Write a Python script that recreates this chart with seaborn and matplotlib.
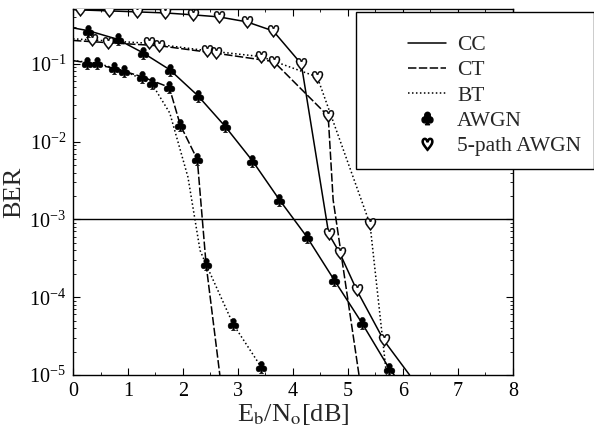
import numpy as np
import pandas as pd
import matplotlib
matplotlib.use("Agg")
import matplotlib.pyplot as plt
import seaborn as sns
from matplotlib.lines import Line2D
from matplotlib.legend_handler import HandlerLine2D
from matplotlib.ticker import LogLocator, MultipleLocator, NullFormatter

# ---------------- data ----------------
cc_awgn_x = [0, 0.28, 0.81, 1.27, 1.76, 2.27, 2.76, 3.26, 3.75, 4.25, 4.75, 5.25, 5.75, 5.84]
cc_awgn_y = [0.29, 0.267, 0.207, 0.139, 0.084, 0.039, 0.0159, 5.7e-3, 1.8e-3, 6.0e-4, 1.66e-4, 4.7e-5, 1.21e-5, 1e-5]
cc_awgn_mk = list(range(1, 13))

ct_awgn_x = [0, 0.26, 0.75, 1.25, 1.75, 1.95, 2.26, 2.42, 2.67]
ct_awgn_y = [0.11, 0.1035, 0.0877, 0.0685, 0.05, 0.0164, 5.9e-3, 2.64e-4, 1e-5]
ct_awgn_mk = list(range(1, 8))

bt_awgn_x = [0, 0.44, 0.93, 1.43, 1.76, 2.09, 2.31, 2.42, 2.91, 3.42]
bt_awgn_y = [0.11, 0.102, 0.081, 0.0562, 0.0233, 3.5e-3, 4.0e-4, 2.64e-4, 4.53e-5, 1.27e-5]
bt_awgn_mk = [1, 2, 3, 8, 9]

cc_5p_x = [0, 0.13, 0.65, 1.16, 1.67, 2.18, 2.65, 3.16, 3.64, 4.15, 4.65, 4.85, 5.16, 5.65, 6.12]
cc_5p_y = [0.5, 0.494, 0.48, 0.466, 0.452, 0.427, 0.402, 0.347, 0.265, 0.1, 6.5e-4, 3.7e-4, 1.23e-4, 2.8e-5, 1e-5]
cc_5p_mk = list(range(1, 14))

ct_5p_x = [0, 0.64, 1.57, 2.6, 3.65, 4.64, 4.73, 5.2]
ct_5p_y = [0.2, 0.187, 0.171, 0.137, 0.107, 0.0213, 1.78e-3, 1e-5]
ct_5p_mk = [1, 2, 3, 4, 5]

bt_5p_x = [0, 0.34, 1.39, 2.43, 3.42, 4.44, 5.40, 5.63, 5.7]
bt_5p_y = [0.21, 0.203, 0.184, 0.148, 0.124, 0.068, 8.7e-4, 2.86e-5, 1e-5]
bt_5p_mk = [1, 2, 3, 4, 5, 6]

x_ticks = [0, 1, 2, 3, 4, 5, 6, 7, 8]
legend_labels = ["CC", "CT", "BT", "AWGN", "5-path AWGN"]
ref_ber = 1e-3

# ---------------- style ----------------
sns.set_theme(style="ticks")
plt.rcParams["font.family"] = ["Liberation Serif", "DejaVu Serif"]
plt.rcParams["mathtext.fontset"] = "stix"
plt.rcParams["axes.edgecolor"] = "black"
plt.rcParams["axes.linewidth"] = 1.0

SOLID = "-"
DASHED = (0, (5.5, 1.6))
DOTTED = (0, (1.0, 1.6))
CLUB = "$\u2663$"
HEART = "$\u2661$"
HEART_FILL = "$\u2665$"

fig = plt.figure(figsize=(5.94, 4.36), dpi=100)
ax = fig.add_axes([73 / 594, 1 - 375 / 436, 440 / 594, 365.5 / 436])

series = [
    (cc_awgn_x, cc_awgn_y, cc_awgn_mk, SOLID, "club"),
    (ct_awgn_x, ct_awgn_y, ct_awgn_mk, DASHED, "club"),
    (bt_awgn_x, bt_awgn_y, bt_awgn_mk, DOTTED, "club"),
    (cc_5p_x, cc_5p_y, cc_5p_mk, SOLID, "heart"),
    (ct_5p_x, ct_5p_y, ct_5p_mk, DASHED, "heart"),
    (bt_5p_x, bt_5p_y, bt_5p_mk, DOTTED, "heart"),
]

ax.set_yscale("log")
for xs, ys, mk, ls, kind in series:
    df = pd.DataFrame({"x": xs, "y": ys})
    sns.lineplot(data=df, x="x", y="y", ax=ax, color="black", linewidth=1.1,
                 linestyle=ls, sort=False, estimator=None, zorder=3)
    dm = df.iloc[mk]
    if kind == "club":
        sns.scatterplot(data=dm, x="x", y="y", ax=ax, marker=CLUB, s=80,
                        color="black", edgecolor="black", linewidth=0.3, zorder=5)
    else:
        sns.scatterplot(data=dm, x="x", y="y", ax=ax, marker=HEART_FILL, s=70,
                        color="white", edgecolor="white", linewidth=0.0, zorder=4)
        sns.scatterplot(data=dm, x="x", y="y", ax=ax, marker=HEART, s=85,
                        color="black", edgecolor="black", linewidth=0.2, zorder=5)

ax.axhline(ref_ber, color="black", linewidth=1.0, zorder=2)

ax.set_xlim(0, 8)
ax.set_ylim(1e-5, 0.5)
ax.set_xticks(x_ticks)
ax.xaxis.set_minor_locator(MultipleLocator(0.5))
ax.yaxis.set_major_locator(LogLocator(base=10, numticks=10))
ax.yaxis.set_minor_locator(LogLocator(base=10, subs=np.arange(2, 10), numticks=20))
ax.yaxis.set_minor_formatter(NullFormatter())
ax.tick_params(which="both", direction="in", top=True, right=True, colors="black",
               labelsize=14.5)
ax.tick_params(which="major", length=5, width=0.8, pad=5)
ax.tick_params(which="minor", length=2.5, width=0.6)

ax.set_xlabel(r"E$_\mathrm{b}$/N$_\mathrm{o}$[dB]", fontsize=19, labelpad=1)
ax.set_ylabel("BER", fontsize=19)
ax.yaxis.set_label_coords(-0.109, 0.5)


class OffsetHandler(HandlerLine2D):
    def get_xdata(self, legend, xdescent, ydescent, width, height, fontsize):
        x0 = -xdescent
        xdata = np.array([x0 + 0.5 * width, x0 + width])
        xm = np.array([x0 + 0.28 * width])
        return xdata, xm


handles = [
    Line2D([], [], color="black", linewidth=1.1, linestyle=SOLID),
    Line2D([], [], color="black", linewidth=1.1, linestyle=DASHED),
    Line2D([], [], color="black", linewidth=1.1, linestyle=DOTTED),
    Line2D([], [], color="black", linestyle="None", marker=CLUB, markersize=9),
    Line2D([], [], color="black", linestyle="None", marker=HEART, markersize=9),
]
leg = ax.legend(handles, legend_labels, loc="upper left",
                bbox_to_anchor=(0.643, 0.993), borderaxespad=0,
                fontsize=15.5, handlelength=3.6, handletextpad=0.5,
                borderpad=0.6, labelspacing=0.24, fancybox=False,
                framealpha=1, edgecolor="black", title=" ", title_fontsize=5,
                handler_map={Line2D: OffsetHandler()})
leg.get_frame().set_linewidth(1.0)
leg.set_zorder(10)

fig.savefig("out.png", dpi=100)
